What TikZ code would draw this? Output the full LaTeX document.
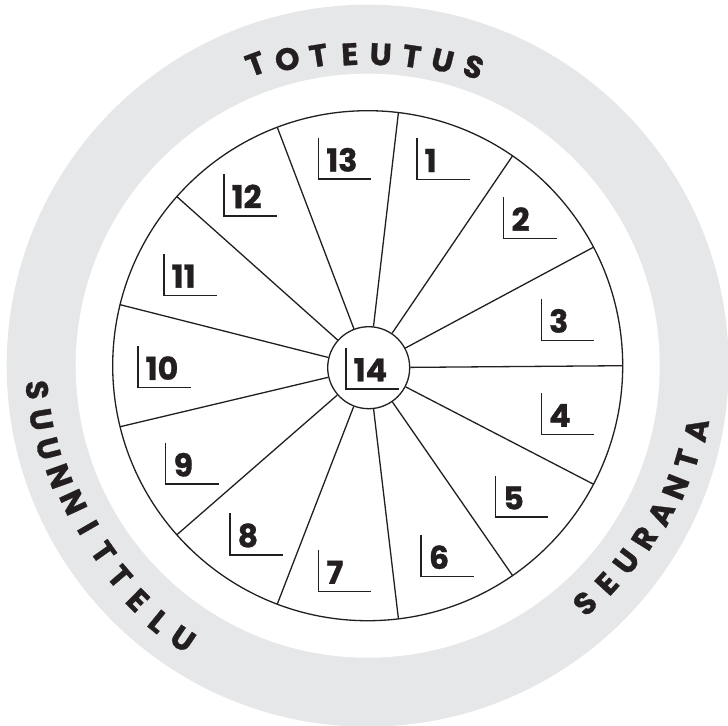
\documentclass[tikz,border=0pt]{standalone}
\usepackage{fontspec}
\setmainfont{Poppins}[Numbers=Proportional]
\newfontfamily\heavyfont{Poppins}[Numbers=Proportional, BoldFeatures={FakeBold=1.0}]
\definecolor{ringgray}{RGB}{230,231,232}
\definecolor{ink}{RGB}{35,31,32}
\begin{document}
\begin{tikzpicture}[x=0.5pt,y=0.5pt,
  spoke/.style={line width=0.65pt, draw=ink},
  bracket/.style={line width=0.75pt, draw=ink},
  num/.style={font=\heavyfont\fontsize{15.8}{15.8}\selectfont\bfseries, anchor=base west, inner sep=0pt, text=ink},
  ringtxt/.style={font=\heavyfont\fontsize{15.5}{15.5}\selectfont\bfseries, inner sep=0pt, text=ink},
  pics/numlabel/.style={code={
    \draw[bracket] (0,41.5) -- (0,0) -- (53,0);
    \node[num] (-t) at (7.5,7.7) {#1};
  }}]
\useasboundingbox (-367.7,-359.3) rectangle (360.3,365.7);
\fill[ringgray] (0,0) circle[radius=180.5pt];
\fill[white] (0,0) circle[radius=146pt];
\node[draw=ink, circle, line width=0.65pt, minimum size=41pt, inner sep=0pt] (hub) at (1,-2) {};
\draw[spoke] (0,0) circle[radius=127.5pt];
\foreach \k in {0,...,12} {
  \coordinate (s\k) at ({\k*360/13}:255);
  \draw[spoke] (s\k) -- (hub);
}
% sector labels
\pic (L13) at (-49.2,186.5) {numlabel=13};
\pic (L1) at (49.2,186) {numlabel=1};
\pic (L12) at (-143.9,149.8) {numlabel=12};
\pic (L2) at (136,127.1) {numlabel=2};
\pic (L11) at (-203.8,70.4) {numlabel=11};
\pic (L3) at (173.6,25.4) {numlabel=3};
\pic (L10) at (-229.8,-21.9) {numlabel=10};
\pic (L14) at (-21.8,-23.3) {numlabel=14};
\pic (L4) at (173.6,-68.8) {numlabel=4};
\pic (L9) at (-202,-118.5) {numlabel=9};
\pic (L5) at (127.7,-151.5) {numlabel=5};
\pic (L8) at (-137.9,-189.1) {numlabel=8};
\pic (L6) at (53.4,-210.9) {numlabel=6};
\pic (L7) at (-49.2,-225.8) {numlabel=7};
% ring words
\foreach \ch/\a/\r [count=\i] in {T/110.4/322, O/104.7/317, T/99.0/314, E/93.3/312, U/87.6/311.5, T/81.9/312.5, U/76.2/314, S/70.5/317}
  \node[ringtxt, rotate=\a-90] (top\i) at (\a:\r) {\ch};
\foreach \ch/\a/\r [count=\i] in {S/184.2/331.5, U/189.37/331, U/194.54/330, N/199.71/327.5, N/204.88/324.5, I/210.05/323, T/215.22/323.5, T/220.39/325.5, E/225.56/328.5, L/230.73/330.5, U/235.9/330}
  \node[ringtxt, rotate=\a+90] (left\i) at (\a:\r) {\ch};
\foreach \ch/\a/\r [count=\i] in {S/-47.55/322, E/-42.34/323.5, U/-37.13/324.5, R/-31.92/326, A/-26.72/328.5, N/-21.51/331, T/-16.30/332.5, A/-11.09/335}
  \node[ringtxt, rotate=\a+90] (right\i) at (\a:\r) {\ch};
\end{tikzpicture}
\end{document}
